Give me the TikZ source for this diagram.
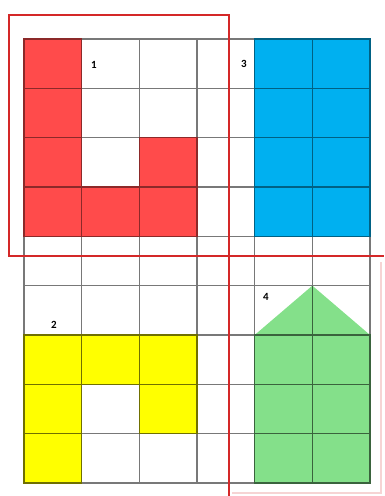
\documentclass[tikz,border=0pt]{standalone}
\usepackage{fontspec}
\setsansfont{Carlito}
\definecolor{RedClr}{RGB}{255,75,75}
\definecolor{BlueClr}{RGB}{0,176,240}
\definecolor{YellowClr}{RGB}{255,255,0}
\definecolor{GreenClr}{RGB}{132,224,138}
\definecolor{GridClr}{RGB}{120,120,120}
\definecolor{FrameClr}{RGB}{212,40,40}
\tikzset{
  cell/.style={draw=#1!55!black,fill=#1,line width=1.2pt},
  gridline/.style={draw=GridClr,line width=1.2pt},
  frame/.style={draw=FrameClr,line width=2.5pt},
  numlabel/.style={font=\sffamily\bfseries\fontsize{11}{11}\selectfont,inner sep=0pt}
}
\begin{document}
\begin{tikzpicture}[x=1pt,y=-1pt]
\useasboundingbox (0,0) rectangle (384,496);

% squares of the grid, one unit per cell
\begin{scope}[shift={(24,39)},x=57.67pt,y=-49.33pt]
% shape 1
\foreach \c/\r in {0/0,0/1,0/2,0/3,2/2,1/3,2/3}
  \fill[RedClr] (\c,\r) rectangle ++(1,1);
% shape 3
\foreach \c in {4,5} \foreach \r in {0,...,3}
  \fill[BlueClr] (\c,\r) rectangle ++(1,1);
% shape 2
\foreach \c/\r in {0/6,1/6,2/6,0/7,2/7,0/8}
  \fill[YellowClr] (\c,\r) rectangle ++(1,1);
% shape 4
\foreach \c in {4,5} \foreach \r in {6,7,8}
  \fill[GreenClr] (\c,\r) rectangle ++(1,1);
\fill[GreenClr] (4,6) -- (5,5) -- (6,6) -- cycle;

\foreach \c in {0,...,6} \draw[gridline] (\c,0) -- (\c,9);
\foreach \r in {0,...,9} \draw[gridline] (0,\r) -- (6,\r);
% darker lines over the coloured cells
\foreach \c/\r in {0/0,0/1,0/2,0/3,2/2,1/3,2/3}
  \draw[cell=RedClr,fill=none] (\c,\r) rectangle ++(1,1);
\foreach \c in {4,5} \foreach \r in {0,...,3}
  \draw[cell=BlueClr,fill=none] (\c,\r) rectangle ++(1,1);
\foreach \c/\r in {0/6,1/6,2/6,0/7,2/7,0/8}
  \draw[cell=YellowClr!80!black,fill=none] (\c,\r) rectangle ++(1,1);
\foreach \c in {4,5} \foreach \r in {6,7,8}
  \draw[cell=GreenClr!80!black,fill=none] (\c,\r) rectangle ++(1,1);
\draw[cell=GreenClr!80!black,fill=none] (5,5) -- (5,6);
\end{scope}

% labels
\node[numlabel] (n1) at (94,65) {1};
\node[numlabel] (n2) at (54,325) {2};
\node[numlabel] (n3) at (244,64) {3};
\node[numlabel] (n4) at (266,297) {4};

% red frames
\draw[frame] (9,15) rectangle (229,256);
\draw[frame] (229,256) -- (384,256);
\draw[frame] (229,256) -- (229,496);
\draw[draw=FrameClr!20,line width=1.2pt] (381,262) -- (381,493) -- (232,493);

\end{tikzpicture}
\end{document}
